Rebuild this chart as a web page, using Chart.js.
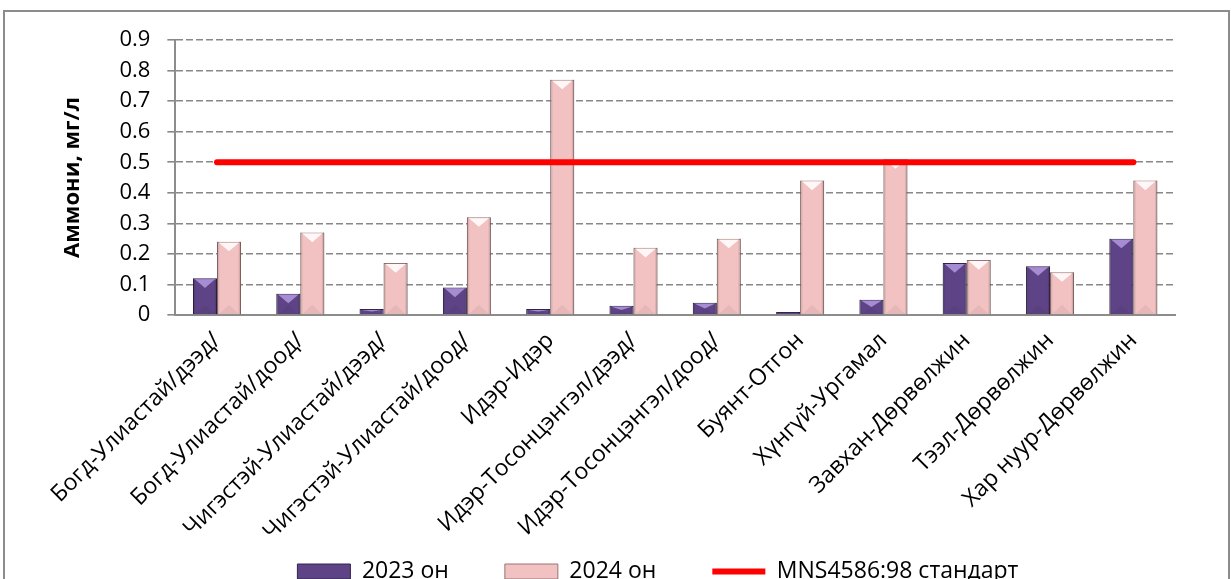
<!DOCTYPE html>
<html>
<head>
<meta charset="utf-8">
<script src="https://cdn.jsdelivr.net/npm/chart.js@4/dist/chart.umd.min.js"></script>
<style>
  html, body { margin: 0; padding: 0; background: #fff; overflow: hidden; }
  #frame { position: absolute; left: 3px; top: 10px; width: 1223px; height: 600px; border: 2px solid #8c8c8c; }
  #wrap { position: absolute; left: 0; top: 0; width: 1231px; height: 593px; }
</style>
</head>
<body>
<div id="frame"></div>
<div id="wrap"><canvas id="chart"></canvas></div>
<script>
  var stations = [
    'Богд-Улиастай/дээд/', 'Богд-Улиастай/доод/', 'Чигэстэй-Улиастай/дээд/',
    'Чигэстэй-Улиастай/доод/', 'Идэр-Идэр', 'Идэр-Тосонцэнгэл/дээд/',
    'Идэр-Тосонцэнгэл/доод/', 'Буянт-Отгон', 'Хүнгүй-Ургамал',
    'Завхан-Дөрвөлжин', 'Тээл-Дөрвөлжин', 'Хар нуур-Дөрвөлжин'
  ];
  var values2023 = [0.12, 0.07, 0.02, 0.09, 0.02, 0.03, 0.04, 0.01, 0.05, 0.17, 0.16, 0.25];
  var values2024 = [0.24, 0.27, 0.17, 0.32, 0.77, 0.22, 0.25, 0.44, 0.51, 0.18, 0.14, 0.44];
  var standard = [0.5, 0.5, 0.5, 0.5, 0.5, 0.5, 0.5, 0.5, 0.5, 0.5, 0.5, 0.5];

  var font = 'Open Sans';

  // excel-like bevel: darker sides and a light "v" cap on top of every bar
  var bevel = {
    id: 'bevel',
    afterDatasetDraw: function(chart, args) {
      var meta = args.meta;
      if (meta.type !== 'bar') return;
      var cap = meta.index === 1 ? 'rgba(170,145,215,0.95)' : 'rgba(255,250,250,0.95)';
      var c = chart.ctx;
      c.save();
      meta.data.forEach(function(bar) {
        var p = bar.getProps(['x', 'y', 'base', 'width'], true);
        var l = p.x - p.width / 2, r = p.x + p.width / 2;
        var h = p.base - p.y;
        var g = c.createLinearGradient(l, 0, r, 0);
        g.addColorStop(0, 'rgba(0,0,0,0.20)');
        g.addColorStop(0.12, 'rgba(0,0,0,0)');
        g.addColorStop(0.88, 'rgba(0,0,0,0)');
        g.addColorStop(1, 'rgba(0,0,0,0.25)');
        c.fillStyle = g;
        c.fillRect(l, p.y, p.width, h);
        var d = Math.min(p.width * 0.4, h / 2);
        c.fillStyle = cap;
        c.beginPath();
        c.moveTo(l + 2, p.y + 1);
        c.lineTo(r - 2, p.y + 1);
        c.lineTo(p.x, p.y + d);
        c.closePath();
        c.fill();
        c.fillStyle = 'rgba(0,0,0,0.05)';
        c.beginPath();
        c.moveTo(l + 2, p.base);
        c.lineTo(r - 2, p.base);
        c.lineTo(p.x, p.base - d);
        c.closePath();
        c.fill();
      });
      c.restore();
    }
  };

  var ctx = document.getElementById('chart').getContext('2d');
  var chart = new Chart(ctx, {
    type: 'bar',
    data: {
      labels: stations,
      datasets: [
        {
          type: 'line',
          label: 'MNS4586:98 стандарт',
          data: standard,
          borderColor: '#ff0000',
          backgroundColor: '#ff0000',
          borderWidth: 6,
          borderCapStyle: 'round',
          pointRadius: 0,
          pointStyle: 'line',
          order: 0
        },
        {
          label: '2023 он',
          data: values2023,
          backgroundColor: '#5e4486',
          borderColor: '#34244d',
          borderWidth: 1,
          pointStyle: 'rect',
          order: 1
        },
        {
          label: '2024 он',
          data: values2024,
          backgroundColor: '#f2c1c1',
          borderColor: '#9a7474',
          borderWidth: 1,
          pointStyle: 'rect',
          order: 1
        }
      ]
    },
    plugins: [bevel],
    options: {
      responsive: true,
      maintainAspectRatio: false,
      animation: false,
      layout: { padding: { left: 46, right: 56, top: 40, bottom: 0 } },
      datasets: {
        bar: { categoryPercentage: 0.576, barPercentage: 1.0 }
      },
      plugins: {
        legend: {
          position: 'bottom',
          fullSize: false,
          labels: {
            font: { family: font, size: 23 },
            color: '#000',
            usePointStyle: true,
            pointStyleWidth: 53,
            boxHeight: 15,
            padding: 10,
            sort: function(a, b) { return (a.datasetIndex + 2) % 3 - (b.datasetIndex + 2) % 3; },
            generateLabels: function(chart) {
              var items = Chart.defaults.plugins.legend.labels.generateLabels(chart);
              items.forEach(function(it) {
                // excel leaves wide gaps between legend entries
                it.text = it.text + (it.datasetIndex === 0 ? '\u2003\u2002' : '\u2003\u2003');
              });
              return items;
            }
          }
        },
        tooltip: { enabled: false }
      },
      scales: {
        x: {
          grid: { display: false },
          border: { display: true, color: '#8c8c8c', width: 2 },
          ticks: {
            color: '#000',
            font: { family: font, size: 23 },
            minRotation: 45,
            maxRotation: 45,
            autoSkip: false,
            padding: 4
          },
          // let the first slanted label hang over the y axis area like excel does
          afterFit: function(scale) { scale.paddingLeft = 0; }
        },
        y: {
          min: 0,
          max: 0.9,
          ticks: {
            stepSize: 0.1,
            color: '#000',
            font: { family: font, size: 22 },
            padding: 17
          },
          grid: {
            color: '#888888',
            lineWidth: 1.6,
            tickLength: 8,
            tickBorderDash: []
          },
          border: { display: true, color: '#8c8c8c', width: 2, dash: [7, 3] },
          title: {
            display: true,
            text: 'Аммони, мг/л',
            color: '#000',
            font: { family: font, size: 22, weight: 'bold' },
            padding: { top: 14, bottom: 16 }
          }
        }
      }
    }
  });
</script>
</body>
</html>
